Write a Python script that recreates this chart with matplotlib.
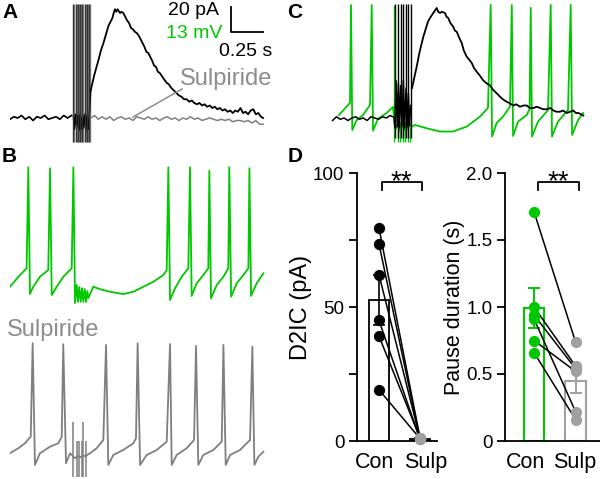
import matplotlib
matplotlib.use('Agg')
import matplotlib.pyplot as plt

plt.rcParams['font.family'] = ['Liberation Sans', 'DejaVu Sans']

GREEN = '#00c800'
GRAY = '#7f7f7f'
LGRAY = '#a0a0a0'

# ---------------- data ----------------
# panel A: D2 current (pA) vs time (s), control (black) and sulpiride (gray)
tA_pre = [0.0, 0.03, 0.06, 0.09, 0.12, 0.15, 0.18, 0.21, 0.24, 0.27, 0.30, 0.33, 0.36, 0.39, 0.42, 0.45, 0.48]
iA_pre = [-1, 1, 0, 2, -1, 1, -2, 1, 0, 2, -1, 0, 1, -1, 2, 0, 2]
tA_stim = [0.495, 0.503, 0.512, 0.521, 0.530, 0.539, 0.548, 0.557, 0.566, 0.575, 0.584, 0.593, 0.602, 0.611, 0.620, 0.63]
iA_stim = [2, -9, 3, -8, 2, -10, 3, -9, 2, -8, 3, -10, 2, -9, 3, 22]
tA_ctl = [0.63, 0.66, 0.69, 0.71, 0.73, 0.75, 0.77, 0.79, 0.80, 0.81, 0.82, 0.83, 0.84, 0.86, 0.87, 0.885,
          0.90, 0.915, 0.93, 0.945, 0.96, 0.975, 0.99, 1.005, 1.02, 1.035, 1.05, 1.065, 1.08, 1.095, 1.11,
          1.125, 1.14, 1.155, 1.17, 1.19, 1.21, 1.225, 1.24, 1.26, 1.28, 1.30, 1.32, 1.34, 1.36, 1.38, 1.40,
          1.42, 1.44, 1.46, 1.48, 1.50, 1.52, 1.54, 1.56, 1.58, 1.60, 1.62, 1.64, 1.66, 1.68, 1.70, 1.72,
          1.74, 1.76, 1.78, 1.80, 1.82, 1.84, 1.86, 1.88, 1.90, 1.92, 1.94, 1.96, 1.977]
iA_ctl = [22, 35, 46, 54, 60, 67, 74, 78, 80, 84, 87, 85, 87, 84, 85, 84,
          81, 78, 76, 72, 71, 69, 68, 66, 63, 60, 57, 53, 52, 49, 46,
          42, 41, 37, 36, 33, 30, 28, 27, 24, 22, 20, 18, 17, 15, 15, 13,
          14, 12, 11, 12, 10, 11, 9, 10, 8, 9, 7, 8, 6, 7, 5, 6,
          4, 6, 5, 8, 4, 5, 3, 6, 7, 3, 4, 1, 0]
tA_sul = [0.63, 0.66, 0.69, 0.72, 0.75, 0.78, 0.81, 0.84, 0.87, 0.90, 0.93, 0.96, 0.99, 1.02, 1.05, 1.08,
          1.11, 1.14, 1.17, 1.20, 1.23, 1.26, 1.29, 1.32, 1.35, 1.38, 1.41, 1.44, 1.47, 1.50, 1.53, 1.56,
          1.59, 1.62, 1.65, 1.68, 1.71, 1.74, 1.77, 1.80, 1.83, 1.86, 1.89, 1.92, 1.95, 1.977]
iA_sul = [0, 2, -1, 1, -1, 1, -2, 0, 1, -1, 0, -2, 1, 0, -1, 1,
          -1, 0, -2, 0, 1, -1, 0, -2, 0, -1, 1, -1, 0, -2, -1, 0,
          -1, -2, -1, -2, -1, -3, -2, -2, -3, -2, -4, -2, -5, -5]
stimA = [0.495, 0.512, 0.530, 0.548, 0.566, 0.584, 0.602, 0.620]

# panel B: membrane potential (mV) vs time (s), control (green)
tB = [0.0, 0.078, 0.130, 0.143, 0.156, 0.182, 0.234, 0.299, 0.3125, 0.326, 0.365, 0.417, 0.482, 0.495,
      0.508, 0.521, 0.531, 0.541, 0.552, 0.5625, 0.573, 0.584, 0.594, 0.604, 0.612,
      0.651, 0.703, 0.781, 0.885, 0.964, 1.042, 1.120, 1.198, 1.224, 1.237, 1.25, 1.289, 1.341, 1.393,
      1.406, 1.419, 1.458, 1.510, 1.549, 1.557, 1.570, 1.615, 1.667, 1.705, 1.713, 1.727, 1.771, 1.823,
      1.862, 1.870, 1.883, 1.927, 1.979]
vB = [-63.1, -57, -53.5, -1, -66.9, -63.1, -57.9, -54.4, -1.5, -67.4, -63.1, -57.9, -53.5, -1,
      -71.6, -62.2, -71.0, -63.2, -71.0, -63.8, -71.0, -64.3, -71.0, -65.3, -69.0,
      -63.1, -64.4, -65.7, -66.9, -65.7, -63.1, -60.5, -57, -54.4, -1, -70, -63.9, -57.9, -53.5,
      -1, -67.9, -61.3, -57, -53.5, -2.8, -69.1, -62.2, -57.9, -53.5, -1, -68.3, -61.3, -57,
      -53.5, -1.5, -67.9, -61.3, -56.1]

# panel B lower: sulpiride (gray)
tBs = [0.0, 0.065, 0.117, 0.162, 0.177, 0.195, 0.234, 0.3125, 0.377, 0.404, 0.416, 0.4375, 0.469,
       0.495, 0.51, 0.53, 0.55, 0.57, 0.59, 0.61, 0.625, 0.677, 0.729, 0.75, 0.768,
       0.807, 0.885, 0.964, 0.984, 0.997, 1.016, 1.068, 1.146, 1.224, 1.25, 1.263,
       1.302, 1.380, 1.4375, 1.453, 1.471, 1.510, 1.588, 1.654, 1.667, 1.685,
       1.719, 1.797, 1.875, 1.893, 1.909, 1.940, 1.979]
vBs = [-60.9, -58.3, -55.7, -52.3, -3.7, -67, -60.9, -57.5, -55.7, -52.3, -4.2, -66.1, -60.9,
       -62.7, -63.5, -62.2, -63.0, -62.0, -62.5, -61.5, -60.9, -58.3, -54, -4.6, -67,
       -61.8, -59.2, -55.7, -53.1, -3.7, -67, -61.8, -59.2, -54.9, -4.1, -67,
       -61.8, -58.3, -54, -5.1, -67, -61.8, -59.2, -54.9, -4.6, -67,
       -61.8, -59.2, -54, -5.5, -67, -62.7, -60.1]
stimBs = [0.495, 0.521, 0.541, 0.5625, 0.574, 0.594]
stimBs_top = [-44.6, -54.4, -54.4, -54.4, -44.6, -54.4]

# panel C: voltage (green) and current (black) overlaid
tCv = [0.070, 0.156, 0.164, 0.174, 0.209, 0.258, 0.3125, 0.326, 0.336, 0.375, 0.443, 0.492,
       0.51, 0.53, 0.55, 0.57, 0.59, 0.61,
       0.638, 0.664, 0.755, 0.859, 0.961, 1.068, 1.172, 1.234, 1.255, 1.266, 1.302, 1.352, 1.406,
       1.420, 1.430, 1.469, 1.537, 1.559, 1.568, 1.578, 1.625, 1.703, 1.724, 1.734, 1.781, 1.859,
       1.880, 1.891, 1.938, 1.977]
vCv = [-58.2, -51.9, -1, -66, -60.8, -58.2, -53, -1, -66.3, -60.2, -57.1, -54,
       -66, -63, -67, -63, -67, -64,
       -64.2, -63.4, -65.1, -66.8, -66.8, -64.2, -59.0, -54.5, -1, -69.4, -62.3, -59.0, -53.8,
       -1, -69.1, -61.6, -58.2, -55.0, -2.5, -69.4, -61.6, -55.6, -1, -69.4, -61.6, -55.6,
       -1, -68.6, -60.8, -57.1]
tCi_pre = [0.02, 0.05, 0.08, 0.11, 0.14, 0.17, 0.20, 0.23, 0.26, 0.29, 0.32, 0.35, 0.38, 0.41, 0.44, 0.47, 0.49]
iCi_pre = [-2, 1, -1, 0, -2, 0, 1, -1, 0, -2, 1, 0, -1, 1, 0, 2, 1]
tCi_stim = [0.50, 0.508, 0.516, 0.525, 0.534, 0.543, 0.552, 0.562, 0.573, 0.583, 0.594, 0.603, 0.612, 0.621, 0.630]
iCi_stim = [0, -8, 30, -7, 28, -8, 26, -6, 30, -8, 24, -7, 20, -6, 10]
tCi = [0.641, 0.66, 0.677, 0.70, 0.729, 0.75, 0.765, 0.781, 0.80, 0.82, 0.834, 0.845, 0.859, 0.875, 0.898,
       0.91, 0.924, 0.94, 0.963, 0.975, 0.99, 1.01, 1.029, 1.045, 1.068, 1.085, 1.107, 1.125, 1.146, 1.17,
       1.198, 1.22, 1.25, 1.27, 1.289, 1.31, 1.328, 1.35, 1.38, 1.40, 1.432, 1.455, 1.484, 1.51, 1.537,
       1.56, 1.589, 1.615, 1.641, 1.665, 1.693, 1.72, 1.745, 1.77, 1.797, 1.82, 1.849, 1.875, 1.901,
       1.92, 1.94, 1.96, 1.979]
iCi = [24, 33, 41, 53, 65, 72, 77, 80, 83, 86, 88, 85, 84, 85, 84,
       81, 80, 76, 73, 70, 69, 64, 60, 54, 49, 47, 44, 40, 37, 34,
       30, 28, 26, 23, 21, 19, 17, 15, 13, 12, 10, 11, 9, 10, 10,
       8, 8, 9, 8, 7, 7, 8, 6, 5, 5, 6, 4, 5, 6,
       4, 4, 3, 2]
stimC = [0.508, 0.534, 0.552, 0.573, 0.594, 0.612, 0.630]

# panel D
groups = ['Con', 'Sulp']
d2ic_con = [79.4, 73.5, 62.0, 45.0, 39.1, 19.1]
d2ic_sul = [1.2, 0.8, 1.0, 0.6, 1.1, 0.9]
d2ic_mean = [52.5, 0.9]
d2ic_sem = [9.3, 0.1]
pause_con = [1.71, 1.00, 0.94, 0.91, 0.75, 0.66]
pause_sul = [0.74, 0.56, 0.54, 0.22, 0.52, 0.16]
pause_mean = [0.99, 0.45]
pause_sem = [0.15, 0.09]

# ---------------- figure ----------------
fig = plt.figure(figsize=(6, 4.79), dpi=100)
W, H = 600, 479


def px_axes(x0, y0, x1, y1, off=True):
    ax = fig.add_axes([x0 / W, 1 - y1 / H, (x1 - x0) / W, (y1 - y0) / H])
    if off:
        ax.set_axis_off()
    ax.patch.set_alpha(0)
    return ax


# A
axA = px_axes(10, 0, 280, 145)
axA.set_xlim(0, 2.109)
axA.set_ylim(-21.6, 94.4)
axA.plot(tA_pre, iA_pre, color=GRAY, lw=1.1)
axA.plot(tA_sul, iA_sul, color=GRAY, lw=1.1)
axA.vlines([t + 0.008 for t in stimA], -19, 91, color=GRAY, lw=1.0)
axA.plot(tA_pre, iA_pre, color='black', lw=1.1)
axA.plot(tA_stim, iA_stim, color='black', lw=1.1)
axA.vlines(stimA, -19, 91, color='#333333', lw=1.0)
axA.plot(tA_ctl, iA_ctl, color='black', lw=1.3)
axA.plot([1.727, 1.727, 1.977], [88.8, 68.8, 68.8], color='black', lw=1.3)
axA.text(1.63, 86, '20 pA', ha='right', va='center', fontsize=14)
axA.text(1.66, 67.6, '13 mV', ha='right', va='center', fontsize=14, color=GREEN)
axA.text(2.05, 53.2, '0.25 s', ha='right', va='center', fontsize=14)
axA.text(1.6875, 31, 'Sulpiride', ha='center', va='center', fontsize=17, color='#8c8c8c')
axA.plot([1.344, 0.961], [23.2, 0.8], color='#8c8c8c', lw=1.1)

# B upper
axB = px_axes(10, 145, 280, 310)
axB.set_xlim(0, 2.109)
axB.set_ylim(-75.2, 10.6)
axB.plot(tB, vB, color=GREEN, lw=1.3)

# B lower
axBs = px_axes(10, 315, 280, 479)
axBs.set_xlim(0, 2.109)
axBs.set_ylim(-74.3, 11)
axBs.vlines(stimBs, -73.2, stimBs_top, color=GRAY, lw=1.1)
axBs.plot(tBs, vBs, color=GRAY, lw=1.3)
fig.text(7 / W, 1 - 330 / H, 'Sulpiride', ha='left', va='center', fontsize=17, color='#8c8c8c')

# C
axCv = px_axes(330, 0, 600, 145)
axCv.set_xlim(0, 2.109)
axCv.set_ylim(-73.8, 1.6)
axCv.vlines([t - 0.005 for t in stimC], -72, -62, color=GREEN, lw=1.0)
axCv.vlines([0.5], -62, -1, color=GREEN, lw=1.0)
axCv.plot(tCv, vCv, color=GREEN, lw=1.3)
axCi = px_axes(330, 0, 600, 145)
axCi.set_xlim(0, 2.109)
axCi.set_ylim(-21.6, 94.4)
axCi.plot(tCi_pre, iCi_pre, color='black', lw=1.1)
axCi.plot(tCi_stim, iCi_stim, color='black', lw=1.1)
axCi.vlines(stimC, -16, 91, color='black', lw=1.0)
axCi.plot(tCi, iCi, color='black', lw=1.3)

# panel letters
for lab, x, y in [('A', 2, 13), ('B', 2, 157), ('C', 287, 13), ('D', 288, 157)]:
    fig.text(x / W, 1 - y / H, lab, fontsize=15, fontweight='bold', va='center', ha='left')


def style_bar_axes(ax, label_pos):
    for s in ['top', 'right']:
        ax.spines[s].set_visible(False)
    for s in ['left', 'bottom']:
        ax.spines[s].set_linewidth(1.3)
    ax.tick_params(axis='y', which='both', length=6, width=1.3, labelsize=13.5, pad=3)
    ax.tick_params(axis='x', length=0, labelsize=15.5, pad=8)
    ax.set_xticks(label_pos)
    ax.set_xticklabels(groups)


# D left
axD1 = px_axes(357, 173, 437, 441, off=False)
style_bar_axes(axD1, [-0.12, 1.13])
axD1.set_xlim(-0.537, 1.415)
axD1.set_ylim(0, 100)
axD1.set_yticks([0, 50, 100])
axD1.set_yticks([25, 75], minor=True)
axD1.bar([0, 1], d2ic_mean, width=0.49, color='white', edgecolor='black', lw=1.3, zorder=1)
axD1.errorbar([0, 1], d2ic_mean, yerr=d2ic_sem, fmt='none', ecolor='black', elinewidth=1.2,
              capsize=4, capthick=1.2, zorder=2)
for a, b in zip(d2ic_con, d2ic_sul):
    axD1.plot([0, 1], [a, b], color='black', lw=1.1, zorder=3)
axD1.scatter([0] * len(d2ic_con), d2ic_con, s=50, color='black', zorder=4, clip_on=False)
axD1.scatter([1] * len(d2ic_sul), d2ic_sul, s=50, color=LGRAY, zorder=4, clip_on=False)
axD1.set_ylabel('D2IC (pA)', fontsize=17, labelpad=1)
axD1.plot([0.073, 0.073, 1.05, 1.05], [93.7, 96.6, 96.6, 93.7], color='black', lw=1.3, clip_on=False)
axD1.text(0.55, 94.0, '**', ha='center', va='baseline', fontsize=20)

# D right
axD2 = px_axes(505, 173, 600, 441, off=False)
style_bar_axes(axD2, [-0.2, 0.99])
axD2.set_xlim(-0.70, 1.59)
axD2.set_ylim(0, 2.0)
axD2.set_yticks([0, 0.5, 1.0, 1.5, 2.0])
axD2.set_yticklabels(['0', '0.5', '1.0', '1.5', '2.0'])
axD2.bar([0], pause_mean[:1], width=0.5, color='white', edgecolor=GREEN, lw=1.5, zorder=1)
axD2.bar([1], pause_mean[1:], width=0.5, color='white', edgecolor=LGRAY, lw=1.5, zorder=1)
axD2.errorbar([0], pause_mean[:1], yerr=pause_sem[:1], fmt='none', ecolor=GREEN, elinewidth=1.4,
              capsize=4, capthick=1.4, zorder=2)
axD2.errorbar([1], pause_mean[1:], yerr=pause_sem[1:], fmt='none', ecolor=LGRAY, elinewidth=1.4,
              capsize=4, capthick=1.4, zorder=2)
for a, b in zip(pause_con, pause_sul):
    axD2.plot([0, 1], [a, b], color='black', lw=1.1, zorder=3)
axD2.scatter([0] * len(pause_con), pause_con, s=50, color=GREEN, zorder=4, clip_on=False)
axD2.scatter([1] * len(pause_sul), pause_sul, s=50, color=LGRAY, zorder=4, clip_on=False)
axD2.set_ylabel('Pause duration (s)', fontsize=15.5, labelpad=1)
axD2.plot([0.1, 0.1, 1.08, 1.08], [1.87, 1.93, 1.93, 1.87], color='black', lw=1.3, clip_on=False)
axD2.text(0.58, 1.88, '**', ha='center', va='baseline', fontsize=20)

fig.savefig('out.png', dpi=100)
